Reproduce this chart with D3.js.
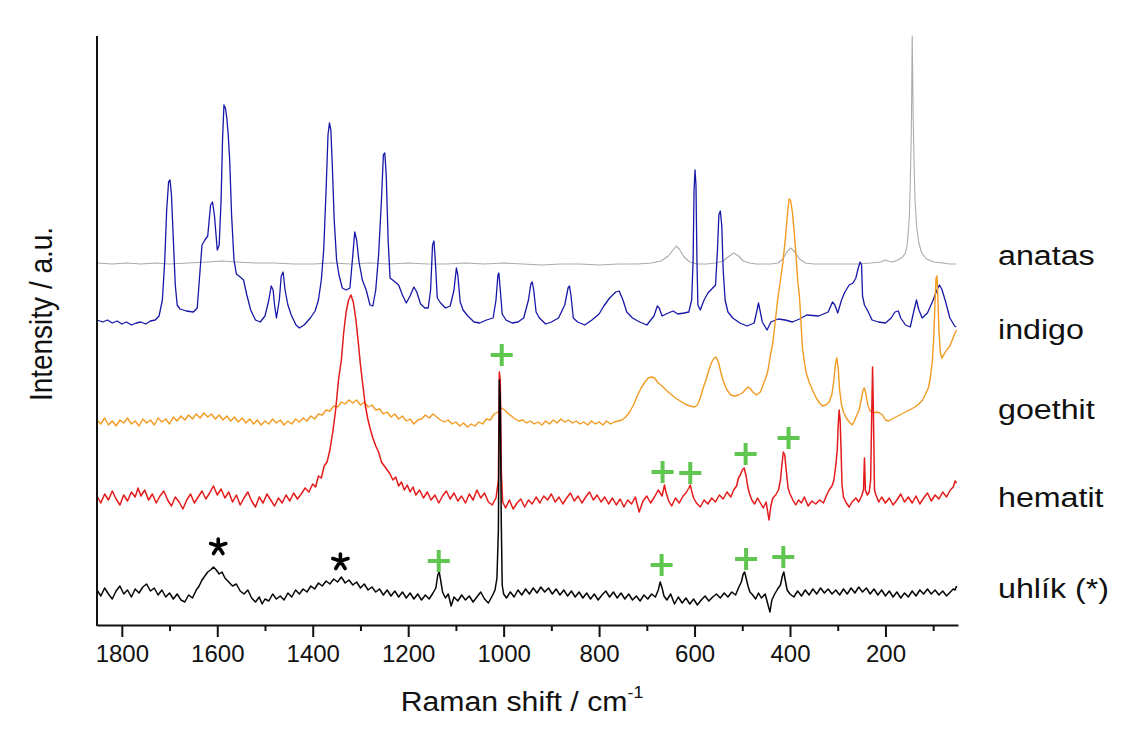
<!DOCTYPE html>
<html>
<head>
<meta charset="utf-8">
<script src="https://cdn.jsdelivr.net/npm/d3@7"></script>
<style>
  body { margin: 0; background: #fff; }
  svg { display: block; font-family: "Liberation Sans", Arial, sans-serif; }
  .x-axis text { font-size: 24px; fill: #111; }
  .x-axis path, .x-axis line { stroke: #111; stroke-width: 2; }
  .spectrum { fill: none; stroke-linejoin: round; }
</style>
</head>
<body>
<div id="chart"></div>
<script>
// Raman shift (cm-1) and stacked intensity (a.u.)
var anatas = [[1852,362],[1820,361],[1790,362],[1760,361],[1730,362],[1700,361],[1660,362],[1620,363],[1590,364],[1560,363],[1520,362],[1480,362],[1440,361],[1400,361],[1360,362],[1320,361],[1280,362],[1240,361],[1200,362],[1160,361],[1120,361],[1080,362],[1040,361],[1000,362],[960,361],[920,360],[880,361],[840,361],[800,360],[760,361],[720,361],[690,362],[670,364],[655,369],[645,375],[638,379],[632,376],[622,368],[610,363],[595,361],[575,361],[555,362],[540,364],[530,368],[518,372],[508,369],[498,364],[485,362],[470,361],[440,361],[425,362],[415,366],[405,374],[398,377],[390,373],[380,366],[368,362],[350,361],[320,361],[290,361],[260,361],[230,362],[210,363],[200,365],[195,364],[185,363],[174,365],[164,368],[158,372],[154,382],[150,407],[148,443],[146,488],[145,530],[144,589],[143,551],[142,510],[140,460],[138,425],[135,400],[130,382],[124,372],[114,366],[99,363],[80,362],[65,361],[52,361]];

var indigo = [[1852,305],[1840,303],[1830,305],[1820,302],[1810,304],[1800,301],[1790,303],[1780,300],[1770,302],[1760,303],[1750,301],[1740,304],[1730,305],[1722,309],[1715,325],[1710,365],[1706,415],[1702,443],[1699,445],[1696,430],[1692,385],[1688,340],[1684,320],[1678,316],[1665,314],[1650,313],[1642,317],[1636,355],[1632,380],[1626,385],[1620,389],[1614,420],[1610,423],[1606,410],[1600,375],[1596,380],[1592,425],[1589,485],[1586,520],[1583,517],[1580,507],[1577,490],[1574,465],[1570,410],[1565,365],[1560,351],[1552,348],[1545,345],[1538,330],[1530,315],[1520,305],[1510,303],[1500,309],[1492,325],[1487,339],[1483,335],[1480,320],[1476,307],[1470,325],[1466,349],[1462,353],[1458,335],[1452,320],[1445,310],[1435,300],[1428,297],[1418,300],[1405,307],[1395,314],[1388,325],[1382,345],[1377,375],[1372,435],[1368,490],[1365,502],[1362,495],[1359,460],[1355,405],[1350,365],[1345,350],[1338,337],[1330,335],[1322,337],[1316,370],[1312,393],[1308,385],[1303,363],[1296,345],[1288,335],[1280,320],[1274,319],[1268,335],[1262,370],[1256,425],[1252,470],[1249,472],[1246,450],[1242,385],[1238,347],[1230,344],[1220,340],[1212,330],[1204,322],[1196,329],[1188,338],[1182,333],[1174,321],[1165,317],[1158,317],[1153,335],[1149,380],[1146,384],[1143,363],[1139,327],[1132,322],[1122,317],[1112,319],[1104,335],[1099,357],[1096,350],[1091,323],[1085,315],[1075,309],[1062,303],[1050,302],[1036,305],[1022,307],[1016,325],[1012,350],[1010,352],[1007,335],[1003,311],[995,305],[982,302],[970,303],[958,307],[948,325],[943,341],[940,343],[937,335],[932,313],[925,307],[912,301],[900,303],[885,307],[872,320],[865,337],[862,339],[859,330],[854,307],[845,303],[830,300],[815,305],[800,311],[790,319],[778,327],[765,333],[758,334],[750,325],[742,313],[730,307],[715,303],[700,300],[685,309],[678,319],[674,317],[668,309],[655,312],[645,314],[635,311],[622,312],[612,313],[606,325],[603,365],[601,435],[599,455],[597,440],[595,365],[593,320],[588,315],[580,325],[572,332],[562,337],[556,340],[552,375],[549,410],[546,414],[543,400],[540,355],[536,325],[530,313],[520,307],[505,302],[490,299],[475,302],[469,315],[466,322],[463,315],[458,303],[448,295],[440,303],[425,306],[410,305],[395,303],[380,306],[365,310],[340,309],[320,313],[311,323],[306,320],[300,312],[292,325],[285,333],[276,340],[268,342],[262,347],[257,357],[253,363],[250,360],[248,329],[244,320],[238,315],[228,305],[215,303],[200,302],[188,307],[180,313],[173,314],[168,307],[158,300],[148,298],[140,315],[135,325],[130,315],[123,307],[112,312],[100,325],[92,335],[87,340],[82,336],[75,325],[65,307],[55,299],[52,298]];

var goethit = [[1852,205],[1844,201],[1836,207],[1828,200],[1820,204],[1812,199],[1804,205],[1796,202],[1788,207],[1780,201],[1772,204],[1764,199],[1756,206],[1748,202],[1740,205],[1732,200],[1724,207],[1716,203],[1708,206],[1700,201],[1692,208],[1684,204],[1676,209],[1668,205],[1660,210],[1652,206],[1644,211],[1636,207],[1628,212],[1620,208],[1612,211],[1604,206],[1596,210],[1588,205],[1580,209],[1572,204],[1564,208],[1556,203],[1548,207],[1540,202],[1532,206],[1524,201],[1516,205],[1508,200],[1500,204],[1492,201],[1484,206],[1476,202],[1468,205],[1460,200],[1452,204],[1444,201],[1436,206],[1428,203],[1420,207],[1412,204],[1404,209],[1396,206],[1388,211],[1380,210],[1372,215],[1364,214],[1356,219],[1348,218],[1340,223],[1332,221],[1324,225],[1316,222],[1308,225],[1300,220],[1292,223],[1284,218],[1276,220],[1268,215],[1260,216],[1252,211],[1244,213],[1236,208],[1228,211],[1220,206],[1212,209],[1204,204],[1196,206],[1188,201],[1180,205],[1172,206],[1164,210],[1156,207],[1148,211],[1140,208],[1132,205],[1124,203],[1116,205],[1108,201],[1100,203],[1092,199],[1084,202],[1076,198],[1068,201],[1060,199],[1052,203],[1044,201],[1036,206],[1028,205],[1020,211],[1012,213],[1004,217],[998,215],[992,212],[984,209],[976,206],[968,204],[960,205],[952,202],[944,204],[936,201],[928,203],[920,200],[912,204],[904,201],[896,205],[888,202],[880,206],[872,203],[864,205],[856,202],[848,204],[840,201],[832,203],[824,200],[816,204],[808,201],[800,203],[792,200],[784,204],[776,201],[768,203],[760,204],[752,205],[744,208],[736,213],[728,220],[720,229],[712,237],[704,243],[697,247],[690,248],[684,247],[676,242],[668,239],[660,235],[650,231],[640,227],[630,224],[620,221],[610,219],[600,218],[594,220],[588,227],[582,237],[576,245],[570,255],[564,263],[559,267],[555,268],[550,263],[545,253],[540,244],[532,235],[524,230],[516,229],[508,230],[500,232],[494,235],[488,238],[484,237],[478,233],[470,230],[462,233],[455,242],[450,248],[446,255],[441,270],[436,282],[431,303],[426,325],[420,345],[415,362],[409,390],[405,413],[402,426],[399,425],[395,413],[391,392],[387,367],[384,345],[380,327],[377,303],[374,278],[370,263],[366,252],[360,243],[353,235],[345,227],[338,222],[332,219],[325,220],[318,223],[312,231],[308,245],[305,260],[302,267],[299,257],[296,235],[292,220],[288,213],[282,207],[276,203],[270,200],[265,204],[260,210],[255,215],[250,227],[247,235],[244,237],[241,231],[237,220],[232,214],[225,212],[218,213],[212,212],[206,210],[200,205],[194,204],[186,206],[178,208],[170,210],[162,212],[154,214],[146,216],[138,218],[130,221],[122,225],[115,232],[110,237],[106,247],[102,263],[99,285],[96,325],[94,347],[92,349],[90,325],[88,295],[85,273],[82,267],[78,270],[72,275],[66,278],[60,285],[55,291],[51,295]];

var hematit = [[1852,129],[1844,122],[1836,131],[1828,125],[1820,134],[1812,126],[1804,120],[1796,130],[1788,124],[1780,133],[1772,128],[1766,137],[1760,129],[1752,135],[1744,125],[1736,131],[1728,122],[1720,129],[1712,134],[1704,125],[1696,119],[1688,128],[1680,123],[1672,116],[1664,125],[1656,131],[1648,122],[1640,128],[1632,134],[1624,126],[1616,132],[1608,139],[1600,130],[1592,136],[1584,127],[1576,133],[1568,123],[1560,130],[1552,120],[1544,127],[1536,133],[1528,124],[1520,118],[1512,128],[1504,122],[1496,131],[1488,125],[1480,119],[1472,127],[1464,122],[1456,130],[1448,124],[1440,132],[1432,126],[1424,131],[1416,137],[1408,133],[1400,141],[1394,138],[1388,149],[1382,147],[1376,159],[1370,163],[1364,175],[1358,193],[1352,215],[1346,245],[1340,265],[1335,293],[1330,313],[1325,325],[1320,330],[1315,323],[1310,307],[1305,285],[1300,260],[1295,240],[1290,220],[1285,207],[1280,197],[1274,187],[1268,179],[1262,173],[1256,163],[1250,159],[1244,155],[1238,151],[1232,145],[1226,148],[1220,139],[1214,143],[1208,135],[1202,140],[1196,133],[1190,138],[1184,130],[1176,135],[1168,127],[1160,133],[1152,125],[1144,130],[1136,122],[1128,129],[1120,134],[1112,126],[1104,132],[1096,124],[1088,129],[1080,122],[1072,131],[1064,125],[1056,135],[1048,127],[1040,132],[1032,123],[1024,120],[1016,127],[1011,145],[1009,253],[1007,245],[1005,155],[1002,123],[996,117],[988,125],[980,116],[972,122],[964,126],[956,118],[948,125],[940,121],[932,128],[924,122],[916,129],[908,125],[900,131],[892,123],[884,128],[876,121],[868,127],[860,132],[852,124],[844,129],[836,122],[828,128],[820,133],[812,125],[804,130],[796,123],[788,128],[780,121],[772,127],[764,120],[756,126],[748,118],[740,125],[732,121],[724,128],[716,113],[708,124],[700,129],[692,122],[684,128],[676,135],[668,129],[663,140],[660,133],[654,124],[648,119],[640,127],[632,122],[624,129],[618,132],[612,137],[609,140],[606,134],[602,127],[596,122],[588,118],[580,125],[572,121],[564,127],[556,123],[548,130],[540,126],[532,133],[524,128],[518,135],[512,139],[508,147],[504,150],[500,155],[496,157],[492,149],[488,137],[484,130],[480,125],[474,121],[468,127],[462,122],[456,117],[450,123],[444,105],[440,119],[436,127],[430,130],[424,135],[420,145],[417,160],[414,173],[411,170],[408,155],[404,137],[400,131],[394,125],[388,120],[382,125],[376,122],[370,128],[362,119],[354,124],[346,121],[338,125],[330,122],[324,129],[318,135],[312,139],[308,145],[304,160],[301,175],[299,200],[297,215],[295,205],[293,175],[291,140],[288,128],[282,122],[276,118],[270,123],[262,127],[256,123],[250,129],[246,135],[244,167],[242,135],[238,130],[234,133],[231,145],[229,205],[227,258],[225,205],[223,135],[220,130],[214,123],[208,128],[200,122],[192,127],[184,120],[176,125],[168,131],[160,123],[152,128],[144,122],[136,129],[128,121],[120,127],[112,132],[104,124],[96,130],[88,126],[80,133],[72,128],[64,135],[58,138],[54,144],[51,142]];

var uhlik = [[1852,35],[1844,29],[1836,37],[1828,31],[1820,26],[1812,34],[1804,39],[1796,31],[1788,35],[1780,28],[1772,36],[1764,32],[1756,38],[1748,41],[1740,34],[1732,37],[1724,30],[1716,35],[1708,28],[1700,32],[1692,26],[1684,31],[1676,25],[1668,23],[1660,30],[1652,27],[1644,35],[1638,39],[1632,45],[1626,49],[1620,53],[1614,55],[1608,58],[1602,55],[1596,51],[1590,53],[1584,47],[1576,43],[1568,39],[1560,41],[1552,34],[1544,31],[1536,35],[1528,27],[1520,23],[1512,28],[1506,21],[1500,26],[1492,24],[1484,31],[1476,26],[1468,29],[1460,25],[1452,32],[1444,28],[1436,35],[1428,31],[1420,36],[1412,33],[1404,39],[1396,36],[1388,42],[1380,39],[1372,44],[1364,41],[1356,46],[1348,43],[1340,48],[1332,42],[1324,45],[1316,40],[1308,43],[1300,37],[1292,41],[1284,35],[1276,38],[1268,33],[1260,36],[1252,30],[1244,35],[1236,29],[1228,34],[1220,28],[1212,33],[1204,27],[1196,32],[1188,26],[1180,31],[1172,25],[1164,30],[1156,26],[1148,32],[1142,37],[1138,50],[1135,53],[1132,45],[1128,33],[1122,27],[1116,31],[1110,19],[1104,28],[1096,24],[1088,30],[1080,25],[1072,29],[1064,23],[1056,28],[1048,33],[1040,26],[1032,22],[1024,29],[1018,35],[1014,47],[1011,95],[1009,245],[1007,225],[1005,105],[1003,40],[1000,31],[994,27],[986,33],[978,28],[970,35],[962,30],[954,36],[946,31],[938,37],[930,32],[922,38],[914,33],[906,37],[898,31],[890,36],[882,30],[874,35],[866,29],[858,34],[850,28],[842,33],[834,27],[826,32],[818,26],[810,31],[802,25],[794,30],[786,34],[778,28],[770,33],[762,27],[754,32],[746,26],[738,31],[730,25],[722,29],[714,24],[706,30],[698,26],[690,31],[682,28],[676,35],[672,43],[668,37],[664,29],[658,25],[650,31],[642,21],[634,28],[626,22],[618,27],[610,21],[602,26],[594,20],[586,25],[578,29],[570,24],[562,28],[554,31],[546,27],[538,32],[530,28],[522,33],[514,30],[508,37],[502,43],[498,51],[495,53],[492,47],[488,39],[484,33],[478,30],[472,26],[466,32],[460,27],[452,31],[446,20],[442,13],[438,25],[432,31],[426,36],[420,40],[416,49],[413,53],[410,45],[406,35],[400,31],[392,28],[384,34],[376,29],[368,35],[360,30],[352,36],[344,31],[336,37],[328,32],[320,36],[312,31],[304,35],[296,30],[288,36],[280,31],[272,37],[264,32],[256,38],[248,33],[240,37],[232,31],[224,36],[216,30],[208,35],[200,29],[192,34],[184,28],[176,33],[168,27],[160,32],[152,28],[144,34],[136,29],[128,35],[120,31],[112,36],[104,31],[96,35],[88,30],[80,34],[72,29],[64,33],[58,36],[54,35],[51,39]];

// annotation marks: green crosses (impurity bands) and carbon bands (*)
var plusMarks = [[1004,270],[667,153],[609,152],[493,171],[403,187],[1136,64],[669,60],[492,66],[414,68]];
var starMarks = [[1598,78],[1342,63]];

var majorTicks = [1800, 1600, 1400, 1200, 1000, 800, 600, 400, 200];
var minorTicks = [1700, 1500, 1300, 1100, 900, 700, 500, 300, 100];

var seriesNames = ["anatas", "indigo", "goethit", "hematit", "uhlík (*)"];
var seriesData = [anatas, indigo, goethit, hematit, uhlik];

// styles
var seriesColors = ["#ababab", "#1717a8", "#f29a22", "#e41b1b", "#050505"];
var seriesWidths = [1.1, 1.3, 1.4, 1.5, 1.5];
var labelBaselines = [265, 339, 419, 507, 598];

var svgWidth = 1137;
var svgHeight = 730;

var margin = { top: 36, right: 179, bottom: 105, left: 97 };
var width = svgWidth - margin.left - margin.right;
var height = svgHeight - margin.top - margin.bottom;

var svg = d3.select("#chart")
  .append("svg")
  .attr("width", svgWidth)
  .attr("height", svgHeight);

svg.append("rect")
  .attr("width", svgWidth)
  .attr("height", svgHeight)
  .attr("fill", "#fff");

var chartGroup = svg.append("g")
  .attr("transform", `translate(${margin.left}, ${margin.top})`);

var xScale = d3.scaleLinear().domain([1852, 48]).range([0, width]);
var yScale = d3.scaleLinear().domain([0, 589]).range([height, 0]);

// spectra
var line = d3.line()
  .x(d => xScale(d[0]))
  .y(d => yScale(d[1]));

chartGroup.selectAll(".spectrum")
  .data(seriesData)
  .enter()
  .append("path")
  .attr("class", "spectrum")
  .attr("stroke", (d, i) => seriesColors[i])
  .attr("stroke-width", (d, i) => seriesWidths[i])
  .attr("d", line);

// minor ticks first, then major axis with the line
chartGroup.append("g")
  .attr("class", "x-axis")
  .attr("transform", `translate(0, ${height})`)
  .call(d3.axisBottom(xScale).tickValues(minorTicks).tickSize(6).tickFormat(""))
  .call(g => g.select(".domain").remove());

chartGroup.append("g")
  .attr("class", "x-axis")
  .attr("transform", `translate(0, ${height})`)
  .call(d3.axisBottom(xScale).tickValues(majorTicks).tickSize(12).tickSizeOuter(0).tickPadding(8).tickFormat(d3.format("d")));

// y axis: plain line, no ticks
chartGroup.append("line")
  .attr("x1", 0).attr("x2", 0)
  .attr("y1", 0).attr("y2", height + 1)
  .attr("stroke", "#111")
  .attr("stroke-width", 2);

// markers
chartGroup.selectAll(".plus")
  .data(plusMarks)
  .enter()
  .append("path")
  .attr("class", "plus")
  .attr("transform", d => `translate(${xScale(d[0])}, ${yScale(d[1])})`)
  .attr("d", "M-11,0H11M0,-11V11")
  .attr("stroke", "#5fc650")
  .attr("stroke-width", 4)
  .attr("fill", "none");

chartGroup.selectAll(".star")
  .data(starMarks)
  .enter()
  .append("path")
  .attr("class", "star")
  .attr("transform", d => `translate(${xScale(d[0])}, ${yScale(d[1])})`)
  .attr("d", "M0,-8V1.5M0,-1L7.6,-3.5M0,-1L-7.6,-3.5M0,-1L4.7,6.5M0,-1L-4.7,6.5")
  .attr("stroke", "#000")
  .attr("stroke-width", 3.6)
  .attr("stroke-linecap", "round")
  .attr("fill", "none");

// series labels at the right
seriesNames.forEach(function(name, i) {
  svg.append("text")
    .attr("transform", `translate(998, ${labelBaselines[i]}) scale(1.15, 1)`)
    .attr("font-size", 28)
    .attr("fill", "#111")
    .text(name);
});

// axis titles
var xTitle = svg.append("text")
  .attr("transform", `translate(522, 711) scale(1.12, 1)`)
  .attr("text-anchor", "middle")
  .attr("font-size", 27)
  .attr("fill", "#111");
xTitle.append("tspan").text("Raman shift / cm");
xTitle.append("tspan").attr("font-size", 16).attr("dy", -13).text("-1");

svg.append("text")
  .attr("transform", "translate(52, 314) scale(1.13, 1) rotate(-90)")
  .attr("text-anchor", "middle")
  .attr("font-size", 28)
  .attr("fill", "#111")
  .text("Intensity / a.u.");
</script>
</body>
</html>
